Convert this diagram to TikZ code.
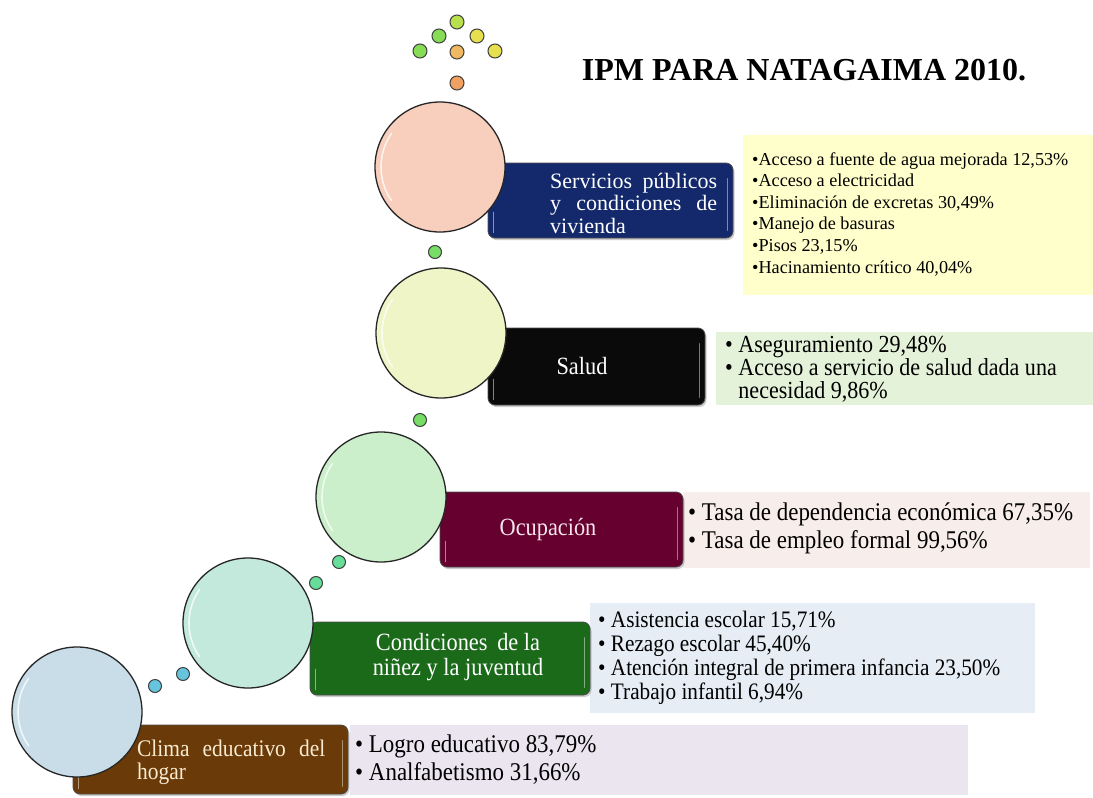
\documentclass[tikz,border=0pt]{standalone}
\usepackage{fontspec}
\setmainfont{Liberation Serif}
\newfontfamily\narrowserif[FakeStretch=0.9]{Liberation Serif}
\usetikzlibrary{shadows}
\definecolor{cpeach}{HTML}{F8CEBD}
\definecolor{cyellow}{HTML}{F0F5C8}
\definecolor{cgreen}{HTML}{CBEFCB}
\definecolor{cmint}{HTML}{C3E9DC}
\definecolor{cblue}{HTML}{C8DDE8}
\definecolor{bnavy}{HTML}{13296B}
\definecolor{bblack}{HTML}{0A0A0A}
\definecolor{bmaroon}{HTML}{65002F}
\definecolor{bgreen}{HTML}{1A6A1A}
\definecolor{bbrown}{HTML}{6A3A08}
\definecolor{lyellow}{HTML}{FFFFCC}
\definecolor{lgreen}{HTML}{E5F2DA}
\definecolor{lpink}{HTML}{F7EDEB}
\definecolor{lblue}{HTML}{E7EDF5}
\definecolor{llav}{HTML}{EAE5EF}
\definecolor{dgreen}{HTML}{86DD55}
\definecolor{dyg}{HTML}{B8E04C}
\definecolor{dyellow}{HTML}{E6E04E}
\definecolor{dorange}{HTML}{F0B860}
\definecolor{dorange2}{HTML}{F0A060}
\definecolor{dlgreen}{HTML}{77DD66}
\definecolor{dteal}{HTML}{66DD99}
\definecolor{dcyan}{HTML}{66C4DD}
\definecolor{tcream}{HTML}{F8EBD0}
\definecolor{tpink}{HTML}{F8E4EC}
\begin{document}
\begin{tikzpicture}[x=1pt,y=-1pt,
  bubble/.style={circle, draw=black!85, line width=1.3pt, minimum size=130pt, inner sep=0pt},
  dot/.style={circle, draw=black!75, line width=1pt, minimum size=#1, inner sep=0pt},
  dot/.default=13pt,
  catbox/.style={draw=black!70, line width=0.8pt, rounded corners=7pt, inner sep=0pt,
    drop shadow={shadow xshift=1.5pt, shadow yshift=-2pt, opacity=0.4}},
  listbox/.style={draw=none, inner sep=0pt},
  boxtext/.style={inner sep=0pt, text=white},
  listtext/.style={inner sep=0pt, anchor=west, align=left, text=black},
  gloss/.style={white, line width=1.6pt, opacity=0.75, line cap=round}
]
\useasboundingbox (0,0) rectangle (1093,798);
\fill[white] (0,0) rectangle (1093,798);

% title
\node[inner sep=0pt, font=\bfseries\fontsize{32}{36}\selectfont] (title) at (804,70) {IPM PARA NATAGAIMA 2010.};

% list boxes
\node[listbox, fill=lyellow, minimum width=350pt, minimum height=160pt] (servlist) at (918,215) {};
\node[listbox, fill=lgreen, minimum width=377pt, minimum height=73pt] (saludlist) at (904.5,368.5) {};
\node[listbox, fill=lpink, minimum width=407pt, minimum height=76pt] (oculist) at (886.5,530) {};
\node[listbox, fill=lblue, minimum width=445pt, minimum height=110pt] (condlist) at (812.5,658) {};
\node[listbox, fill=llav, minimum width=618pt, minimum height=70pt] (climalist) at (659,760) {};

% category boxes
\node[catbox, fill=bnavy, minimum width=245pt, minimum height=75pt] (serv) at (610.5,200.5) {};
\node[catbox, fill=bblack, minimum width=217pt, minimum height=77pt] (salud) at (596.5,366.5) {};
\node[catbox, fill=bmaroon, minimum width=243pt, minimum height=75pt] (ocup) at (561.5,529.5) {};
\node[catbox, fill=bgreen, minimum width=280pt, minimum height=73pt] (cond) at (450,658.5) {};
\node[catbox, fill=bbrown, minimum width=275pt, minimum height=69pt] (clima) at (210.5,759.5) {};

% glossy edges of the boxes
\foreach \b in {serv,salud,ocup,cond,clima}{
  \draw[gloss, opacity=0.5] ([shift={(6pt,6pt)}]\b.south west) -- ([shift={(6pt,26pt)}]\b.south west);
  \draw[gloss, opacity=0.45, line width=1.2pt] ([shift={(-6pt,8pt)}]\b.south east) -- ([shift={(-6pt,-16pt)}]\b.north east);
}

% bubbles
\node[bubble, fill=cpeach] (c1) at (440,167) {};
\node[bubble, fill=cyellow] (c2) at (441,333) {};
\node[bubble, fill=cgreen] (c3) at (381,497) {};
\node[bubble, fill=cmint] (c4) at (248,623) {};
\node[bubble, fill=cblue] (c5) at (77,712) {};
\foreach \c in {c1,c2,c3,c4,c5}{
  \draw[gloss] ([shift={(145:59pt)}]\c.center) arc[start angle=145, end angle=215, radius=59pt];
}

% dots
\node[dot=14pt, fill=dyg] (t1) at (457,22) {};
\node[dot=14pt, fill=dgreen] (t2) at (439,36) {};
\node[dot=14pt, fill=dyellow] (t3) at (477,36) {};
\node[dot=14pt, fill=dgreen] (t4) at (420,51) {};
\node[dot=14pt, fill=dorange] (t5) at (457,52) {};
\node[dot=14pt, fill=dyellow] (t6) at (495,51) {};
\node[dot=14pt, fill=dorange2] (t7) at (457,83) {};
\node[dot, fill=dlgreen] (d1) at (435,252) {};
\node[dot, fill=dlgreen] (d2) at (420,420) {};
\node[dot, fill=dteal] (d3) at (339,562) {};
\node[dot, fill=dteal] (d4) at (316,583) {};
\node[dot, fill=dcyan] (d5) at (183,674) {};
\node[dot, fill=dcyan] (d6) at (155,686) {};

% category texts
\node[boxtext, anchor=west, align=left, font=\fontsize{22}{22.5}\selectfont] (servtxt) at (550,203)
  {\hbox to 167pt{Servicios\hfill públicos}\\\hbox to 167pt{y\hfill condiciones\hfill de}\\vivienda};
\node[boxtext, font=\narrowserif\fontsize{24.8}{28}\selectfont] (saludtxt) at (582,366) {Salud};
\node[boxtext, text=tpink, font=\narrowserif\fontsize{24.8}{28}\selectfont] (ocuptxt) at (548,530) {Ocupación};
\node[boxtext, align=center, font=\narrowserif\fontsize{24.8}{25}\selectfont] (condtxt) at (458,657)
  {Condiciones\, de la\\niñez y la juventud};
\node[boxtext, text=tcream, anchor=west, align=left, font=\narrowserif\fontsize{23.8}{23}\selectfont] (climatxt) at (137,762)
  {\hbox to 188pt{Clima\hfill educativo\hfill del}\\hogar};

% list texts
\node[listtext, font=\fontsize{18.2}{21.6}\selectfont] (servitems) at (752,214)
  {•Acceso a fuente de agua mejorada 12,53\%\\
   •Acceso a electricidad\\
   •Eliminación de excretas 30,49\%\\
   •Manejo de basuras\\
   •Pisos 23,15\%\\
   •Hacinamiento crítico 40,04\%};
\node[listtext, font=\narrowserif\fontsize{24.5}{23}\selectfont] (saluditems) at (725,369)
  {• Aseguramiento 29,48\%\\
   • Acceso a servicio de salud dada una\\
   \hphantom{• }necesidad 9,86\%};
\node[listtext, font=\narrowserif\fontsize{25.5}{28}\selectfont] (ocupitems) at (688,528)
  {• Tasa de dependencia económica 67,35\%\\
   • Tasa de empleo formal 99,56\%};
\node[listtext, font=\narrowserif\fontsize{23.6}{24}\selectfont] (conditems) at (598,658)
  {• Asistencia escolar 15,71\%\\
   • Rezago escolar 45,40\%\\
   • Atención integral de primera infancia 23,50\%\\
   • Trabajo infantil 6,94\%};
\node[listtext, font=\narrowserif\fontsize{25.5}{28}\selectfont] (climaitems) at (355,760)
  {• Logro educativo 83,79\%\\
   • Analfabetismo 31,66\%};
\end{tikzpicture}
\end{document}
